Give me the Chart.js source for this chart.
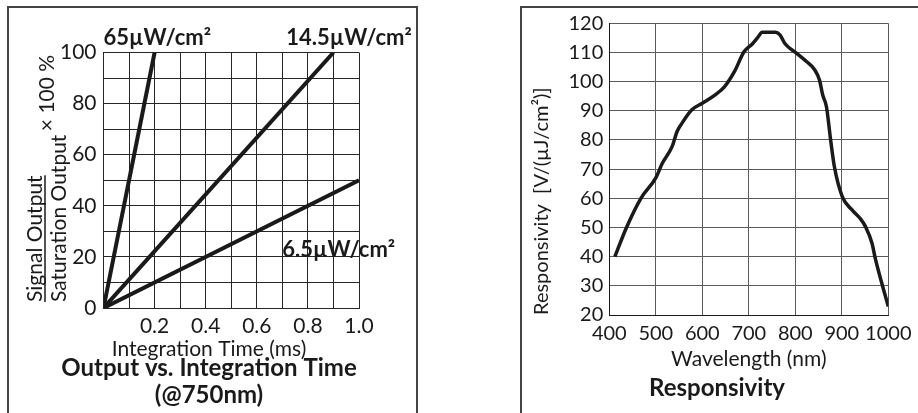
<!DOCTYPE html>
<html>
<head>
<meta charset="utf-8">
<script src="https://cdn.jsdelivr.net/npm/chart.js@4.4.1/dist/chart.umd.min.js"></script>
<style>
  html, body { margin: 0; padding: 0; background: #fff; width: 918px; height: 413px; overflow: hidden; }
  #leftWrap { position: absolute; left: 0; top: 0; width: 418px; height: 413px; }
  #rightWrap { position: absolute; left: 516px; top: 0; width: 402px; height: 413px; }
  .rule { position: absolute; background: #444; }
</style>
</head>
<body>
<div id="leftWrap"><canvas id="c1" width="418" height="413"></canvas></div>
<div id="rightWrap"><canvas id="c2" width="402" height="413"></canvas></div>
<div class="rule" style="left:7px;top:6px;width:411px;height:2px"></div>
<div class="rule" style="left:7px;top:6px;width:2px;height:407px"></div>
<div class="rule" style="left:416px;top:6px;width:2px;height:407px"></div>
<div class="rule" style="left:520px;top:6px;width:398px;height:2px"></div>
<div class="rule" style="left:520px;top:6px;width:2px;height:407px"></div>
<script>
// ---------- Data: Output vs. Integration Time ----------
const seriesNames     = ['65µW/cm²', '14.5µW/cm²', '6.5µW/cm²'];
const lineStartTime   = [0, 0, 0];
const lineStartOutput = [0, 0, 0];
const lineEndTime     = [0.2, 0.9, 1.0];
const lineEndOutput   = [100, 100, 50];
const timeTickLabels   = ['0.2', '0.4', '0.6', '0.8', '1.0'];
const outputTickLabels = ['0', '20', '40', '60', '80', '100'];

// ---------- Data: Responsivity ----------
const wavelength   = [412, 437, 468, 500, 514, 535, 546, 556, 577, 600, 627, 648, 669, 690, 708, 718, 729, 757, 767, 778, 803, 824, 842, 852, 859, 867, 876, 884, 901, 922, 940, 951, 965, 972, 1000];
const responsivity = [40, 50, 60, 67, 72, 77.7, 83, 85.7, 90.3, 92.6, 95.4, 98.3, 103.4, 110.3, 113, 114.9, 116.9, 116.9, 116, 113, 109.7, 106.9, 104, 100.6, 95.4, 91.4, 80, 70.9, 60.6, 56, 53, 50.3, 44.6, 39.4, 22.9];
const wavelengthTickLabels   = ['400', '500', '600', '700', '800', '900', '1000'];
const responsivityTickLabels = ['20', '30', '40', '50', '60', '70', '80', '90', '100', '110', '120'];

Chart.defaults.font.family = 'Lato';
Chart.defaults.color = '#1a1a1a';

const INK = '#1a1a1a';

// Annotation labels and fraction-style y-axis title for the left chart
const leftAnnotations = {
  id: 'leftAnnotations',
  afterDraw(chart) {
    const ctx = chart.ctx;
    const a = chart.chartArea;
    const xs = chart.scales.x, ys = chart.scales.y;
    ctx.save();
    ctx.fillStyle = INK;
    ctx.strokeStyle = INK;
    // series labels
    ctx.font = 'bold 22px Lato';
    ctx.textAlign = 'left';
    ctx.textBaseline = 'alphabetic';
    ctx.fillText(seriesNames[0], xs.getPixelForValue(0), ys.getPixelForValue(100) - 8);
    ctx.fillText(seriesNames[1], xs.getPixelForValue(0.715), ys.getPixelForValue(100) - 8);
    ctx.fillText(seriesNames[2], xs.getPixelForValue(0.70), ys.getPixelForValue(20));

    // y-axis title: Signal Output / Saturation Output × 100 %
    ctx.font = '21px Lato';
    ctx.textBaseline = 'middle';
    // denominator
    ctx.save();
    ctx.translate(a.left - 44, a.bottom - 6);
    ctx.rotate(-Math.PI / 2);
    ctx.textAlign = 'left';
    ctx.fillText('Saturation Output', 0, 0);
    ctx.restore();
    // numerator + fraction bar
    ctx.save();
    ctx.translate(a.left - 68, a.bottom - 6);
    ctx.rotate(-Math.PI / 2);
    ctx.textAlign = 'left';
    const num = 'Signal Output';
    ctx.fillText(num, 0, 0);
    const w = ctx.measureText(num).width;
    ctx.lineWidth = 1.5;
    ctx.beginPath();
    ctx.moveTo(0, 9.5);
    ctx.lineTo(w, 9.5);
    ctx.stroke();
    ctx.restore();
    // × 100 %
    ctx.save();
    ctx.translate(a.left - 56, a.top + 40.5);
    ctx.rotate(-Math.PI / 2);
    ctx.textAlign = 'center';
    ctx.fillText('× 100 %', 0, 0);
    ctx.restore();
    ctx.restore();
  }
};

new Chart(document.getElementById('c1'), {
  type: 'line',
  data: {
    datasets: seriesNames.map((name, i) => ({
      label: name,
      data: [
        { x: lineStartTime[i], y: lineStartOutput[i] },
        { x: lineEndTime[i], y: lineEndOutput[i] }
      ],
      borderColor: INK,
      borderWidth: 4,
      pointRadius: 0,
      fill: false,
      borderCapStyle: 'butt'
    }))
  },
  options: {
    responsive: false,
    animation: false,
    layout: { padding: { left: 59, top: 52.5, right: 59, bottom: 4.5 } },
    plugins: {
      legend: { display: false },
      tooltip: { enabled: false },
      subtitle: {
        display: true, position: 'bottom', text: 'Integration Time (ms)', color: INK,
        font: { size: 21, lineHeight: '6px' }, padding: { top: 8, bottom: 0 }
      },
      title: {
        display: true, position: 'bottom', text: ['Output vs. Integration Time', '(@750nm)'], color: INK,
        font: { size: 24, weight: 'bold', lineHeight: '27px' }, padding: { top: 2.5, bottom: 0 }
      }
    },
    scales: {
      x: {
        type: 'linear', min: 0, max: 1,
        afterFit: s => { s.height = 30; },
        grid: { color: '#262626', lineWidth: 1, drawTicks: false },
        border: { color: '#262626', width: 1 },
        ticks: {
          stepSize: 0.1, autoSkip: false, maxRotation: 0, padding: 5.4, color: INK, font: { size: 21 },
          callback: v => { const t = Number(v).toFixed(1); return timeTickLabels.includes(t) ? t : ''; }
        }
      },
      y: {
        type: 'linear', min: 0, max: 100,
        afterFit: s => { s.width = 44.5; },
        grid: { color: '#262626', lineWidth: 1, drawTicks: false },
        border: { color: '#262626', width: 1 },
        ticks: {
          stepSize: 10, autoSkip: false, padding: 7, color: INK, font: { size: 21 },
          callback: v => { const t = String(Math.round(v)); return outputTickLabels.includes(t) ? t : ''; }
        }
      }
    }
  },
  plugins: [leftAnnotations]
});

new Chart(document.getElementById('c2'), {
  type: 'line',
  data: {
    datasets: [{
      label: 'Responsivity',
      data: wavelength.map((w, i) => ({ x: w, y: responsivity[i] })),
      borderColor: INK,
      borderWidth: 3.5,
      pointRadius: 0,
      fill: false,
      cubicInterpolationMode: 'monotone'
    }]
  },
  options: {
    responsive: false,
    animation: false,
    layout: { padding: { left: 24.7, top: 23.3, right: 24.7, bottom: 10.6 } },
    plugins: {
      legend: { display: false },
      tooltip: { enabled: false },
      title: {
        display: true, position: 'bottom', text: 'Responsivity', color: INK,
        font: { size: 24, weight: 'bold', lineHeight: 1.2 }, padding: { top: 2, bottom: 0 }
      }
    },
    scales: {
      x: {
        type: 'linear', min: 400, max: 1000,
        afterFit: s => { s.height = 56.6; },
        grid: { color: '#5a5a5a', lineWidth: 1, drawTicks: false },
        border: { color: '#1a1a1a', width: 1 },
        ticks: {
          stepSize: 100, autoSkip: false, maxRotation: 0, padding: 6.5, color: INK, font: { size: 20 },
          callback: v => { const t = String(Math.round(v)); return wavelengthTickLabels.includes(t) ? t : ''; }
        },
        title: { display: true, text: 'Wavelength (nm)', color: INK, font: { size: 21 }, padding: { top: 0, bottom: 0 } }
      },
      y: {
        type: 'linear', min: 20, max: 120,
        afterFit: s => { s.width = 68.6; },
        grid: { color: '#5a5a5a', lineWidth: 1, drawTicks: false },
        border: { color: '#1a1a1a', width: 1 },
        ticks: {
          stepSize: 10, autoSkip: false, padding: 6, color: INK, font: { size: 20 },
          callback: v => { const t = String(Math.round(v)); return responsivityTickLabels.includes(t) ? t : ''; }
        },
        title: {
          display: true, text: 'Responsivity  [V/(µJ/cm²)]', align: 'start', color: INK,
          font: { size: 20, lineHeight: '2px' }, padding: { top: 0.3, bottom: 0 }
        }
      }
    }
  }
});
</script>
</body>
</html>
